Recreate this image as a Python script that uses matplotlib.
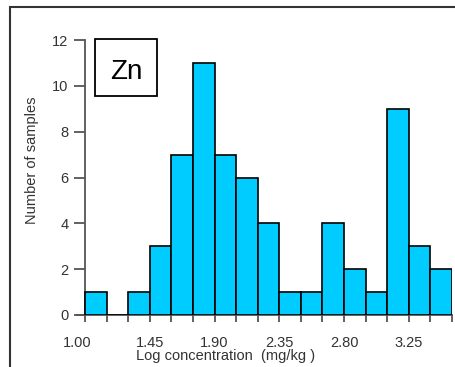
import matplotlib
matplotlib.use('Agg')
import matplotlib.pyplot as plt
import matplotlib.patches as mpatches
import matplotlib.transforms as mtransforms
import numpy as np

plt.rcParams['font.family'] = ['Liberation Sans', 'DejaVu Sans']

# histogram data (bin width 0.15, starting at 1.00)
bin_start = 1.00
bin_width = 0.15
counts = [1, 0, 1, 3, 7, 11, 7, 6, 4, 1, 1, 4, 2, 1, 9, 3, 2]
tick_labels = ['1.00', '1.45', '1.90', '2.35', '2.80', '3.25']
element = 'Zn'

edges = bin_start + bin_width * np.arange(len(counts) + 1)

fig = plt.figure(figsize=(4.56, 3.67), dpi=100)
ax = fig.add_axes([77/456, 1 - 315/367, (452 - 77)/456, (315 - 40)/367])

ax.bar(edges[:-1], counts, width=bin_width, align='edge', color='#00CCFF',
       edgecolor='black', linewidth=1.2, zorder=3)

ax.set_xlim(bin_start - 8/21.6*bin_width, edges[-1])
ax.set_ylim(0, 12)
ax.spines['left'].set_position(('data', bin_start))
ax.spines['top'].set_visible(False)
ax.spines['right'].set_visible(False)
for s in ['left', 'bottom']:
    ax.spines[s].set_color('#555555')
    ax.spines[s].set_linewidth(1.3)

ax.set_yticks(range(0, 13, 2))
ax.set_xticks(edges)
xl = ['' for e in edges]
for i, lab in enumerate(tick_labels):
    xl[i*3] = lab
ax.set_xticklabels(xl)
ax.tick_params(axis='y', direction='out', length=8, width=1.3, color='#555555',
               labelsize=10.5, labelcolor='#333333', pad=4)
ax.tick_params(axis='x', direction='out', length=5, width=1.3, color='#555555',
               labelsize=10.5, labelcolor='#333333', pad=10)

# first label sits a little left of its tick in the original
first = ax.get_xticklabels()[0]
first.set_transform(first.get_transform() + mtransforms.ScaledTranslation(-8/100, 0, fig.dpi_scale_trans))

fig.text(136/456, 1 - 356/367, 'Log concentration  (mg/kg )', ha='left', va='center',
         fontsize=10.5, color='#333333')
fig.text(32/456, 1 - 160/367, 'Number of samples', rotation=90, ha='center', va='center',
         fontsize=10.5, color='#333333')

# label box
box = mpatches.Rectangle((95/456, 1 - 96/367), 62/456, 57/367, transform=fig.transFigure,
                         facecolor='white', edgecolor='black', linewidth=1.3)
fig.patches.append(box)
fig.text(126/456, 1 - 72/367, element, ha='center', va='center', fontsize=20, color='black')

# outer frame
frame = mpatches.Rectangle((10/456, -0.1), 1.2, 1 - 7/367 + 0.1, transform=fig.transFigure,
                           facecolor='none', edgecolor='#333333', linewidth=1.5)
fig.patches.append(frame)

fig.savefig('out.png', dpi=100)
